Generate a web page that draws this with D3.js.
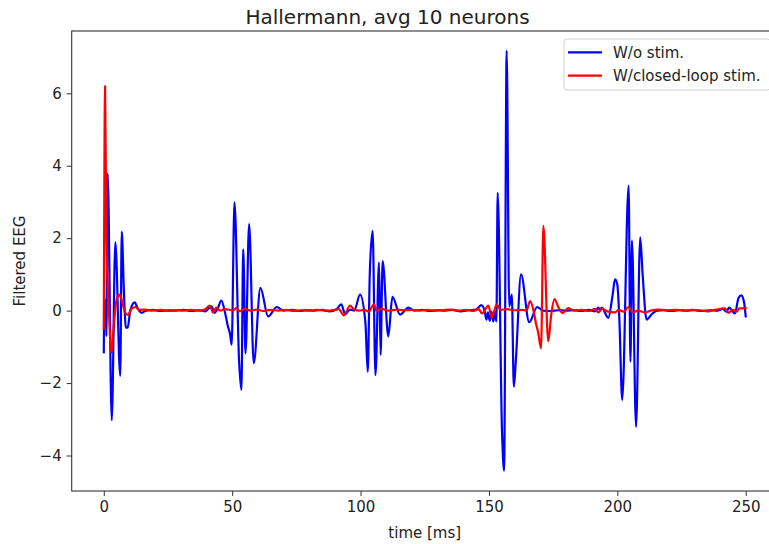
<!DOCTYPE html>
<html>
<head>
<meta charset="utf-8">
<script src="https://cdn.jsdelivr.net/npm/d3@7"></script>
<style>
  html, body { margin: 0; padding: 0; background: #fff; }
  svg { display: block; font-family: "DejaVu Sans", sans-serif; }
</style>
</head>
<body>
<svg id="chart" width="769" height="544"></svg>
<script>
// Filtered EEG, averaged over 10 neurons: without stimulation (blue)
// and with closed-loop stimulation (red). Time in ms.
const woStimTime = [0.0, 0.15, 0.45, 0.7, 1.0, 1.5, 3.1, 4.5, 6.4, 7.0, 7.8, 8.6, 9.3, 10.3, 12.0, 13.3, 14.7, 16.5, 19, 22, 25, 28, 31, 34, 37, 39.5, 41.9, 43.2, 44.3, 45.8, 47.2, 48.4, 49.1, 49.8, 50.9, 52.7, 53.6, 54.3, 55.2, 56.6, 58.4, 61.0, 64.0, 67.4, 70, 73, 76, 79, 82, 85, 88, 90.5, 92.5, 94.0, 95.9, 97.5, 99.8, 101.9, 102.8, 103.6, 104.7, 105.8, 107.2, 107.8, 108.6, 110.8, 112.4, 115.4, 118.6, 121, 124, 127, 130, 133, 136, 139, 142, 145, 147, 148.3, 149.0, 149.6, 150.3, 151.0, 151.7, 152.4, 152.9, 153.4, 155.1, 155.9, 156.9, 157.9, 158.9, 159.7, 160.5, 162.5, 165.7, 168.8, 171, 174, 177, 180, 183, 186, 189, 191.3, 192.6, 193.3, 193.9, 196.5, 198.1, 199.1, 200.0, 200.8, 201.9, 204.4, 205.1, 205.7, 207.3, 208.9, 209.9, 211.4, 213.4, 215.5, 218, 221, 224, 227, 230, 233, 236, 239, 241, 242.5, 243.5, 245.8, 247.2, 248.3, 249.3, 250];
const woStimEEG = [-1.15, 0.25, -0.3, 0.3, -0.7, 3.78, -3.03, 1.89, -1.8, 2.18, 0.6, -0.47, -0.47, 0.0, 0.23, 0.05, -0.06, 0.0, 0.02, -0.01, 0.01, 0.0, 0.02, -0.01, 0.01, -0.02, 0.12, -0.06, 0.05, 0.28, -0.05, -0.45, -0.62, -0.94, 2.99, -1.41, -2.19, 1.69, -1.18, 2.39, -1.45, 0.63, -0.16, 0.1, 0.0, 0.02, -0.01, 0.01, 0.0, 0.02, -0.02, 0.03, 0.17, -0.1, 0.03, 0.0, 0.44, -0.34, -1.69, 1.05, 2.2, -1.78, 1.33, -1.22, 1.37, -0.71, 0.38, -0.11, 0.08, 0.0, 0.02, -0.01, 0.01, 0.0, 0.02, -0.02, 0.01, 0.03, 0.15, 0.0, -0.25, -0.05, -0.28, -0.03, -0.3, -0.05, -0.3, 3.25, -3.35, -4.42, 7.18, 0.12, 0.44, -2.1, -1.35, 1.0, -0.32, 0.1, 0.0, -0.01, 0.01, 0.0, 0.01, -0.01, 0.02, -0.02, 0.08, 0.0, 0.08, -0.2, 0.4, 0.86, 0.72, -0.25, -2.47, 3.45, -1.41, 1.93, -3.21, 2.02, 0.95, -0.25, -0.1, 0.0, 0.01, -0.01, 0.01, 0.0, 0.01, -0.01, 0.01, 0.0, 0.05, -0.03, 0.08, -0.08, 0.35, 0.42, 0.25, -0.16];

const closedLoopTime = [0.0, 0.5, 1.0, 1.9, 2.9, 3.6, 4.4, 5.2, 6.2, 7.3, 8.3, 9.4, 10.8, 12.3, 13.8, 16, 19, 22, 25, 28, 31, 34, 37, 39.5, 41.3, 42.5, 43.8, 45.2, 47, 50.5, 51.5, 53, 55, 57, 59.5, 62, 65, 68, 71, 74, 77, 80, 83, 86, 89, 91.5, 93.5, 95.9, 97.5, 99.5, 101.5, 103.2, 105.2, 106.3, 108, 111, 114, 117, 120, 123, 126, 129, 132, 135, 138, 141, 144, 146, 147.3, 149.8, 151.1, 153.0, 154.5, 157, 160, 163, 164.6, 166.0, 167.3, 168.3, 169.2, 170.3, 171.2, 173.1, 174.2, 175.5, 177, 178.7, 180.9, 183, 186, 189, 191.3, 192.6, 193.9, 196, 199, 200.5, 202.5, 204.3, 206, 208, 210.8, 213, 216, 219, 223, 226, 229, 232, 235.4, 238, 241.9, 243.2, 245, 246.5, 247.5, 250];
const closedLoopEEG = [-0.5, 6.2, 2.0, 0.2, -1.17, -0.7, 0.0, 0.35, 0.44, 0.2, -0.05, -0.12, 0.05, 0.1, 0.02, 0.03, 0.0, 0.02, -0.01, 0.01, 0.0, 0.02, 0.0, 0.04, 0.14, -0.05, 0.08, 0.0, 0.04, 0.01, 0.07, -0.02, 0.05, 0.0, 0.03, -0.01, 0.02, 0.0, 0.02, -0.01, 0.01, 0.0, 0.02, 0.0, 0.01, 0.04, -0.13, 0.14, 0.03, 0.0, 0.02, -0.03, 0.17, -0.02, 0.05, 0.0, 0.03, 0.01, 0.02, 0.0, 0.02, 0.0, 0.01, 0.03, 0.0, 0.02, -0.01, 0.04, -0.08, 0.14, -0.2, 0.17, 0.02, 0.04, 0.01, 0.02, 0.0, 0.26, 0.02, -0.35, -0.62, -1.04, 2.34, -0.85, -0.15, 0.32, 0.1, -0.07, 0.07, 0.0, 0.02, -0.01, 0.05, -0.05, 0.06, -0.02, -0.05, 0.02, -0.03, 0.1, -0.05, 0.0, -0.05, 0.0, 0.03, 0.01, 0.02, 0.0, 0.02, 0.01, -0.02, 0.02, 0.06, -0.06, 0.02, -0.03, 0.06, 0.07];

const xTicks = [0, 50, 100, 150, 200, 250];
const yTicks = [-4, -2, 0, 2, 4, 6];
const seriesNames = ["W/o stim.", "W/closed-loop stim."];
const seriesColors = ["#0000ff", "#ff0000"];

const svg = d3.select("#chart");
const plot = { left: 71.7, right: 777.8, top: 31, bottom: 491 };

const x = d3.scaleLinear().domain([-12.5, 262.5]).range([plot.left, plot.right]);
const y = d3.scaleLinear().domain([-4.98, 7.72]).range([plot.bottom, plot.top]);

const fs = 15;

// clip for the traces
svg.append("defs").append("clipPath").attr("id", "plotClip")
  .append("rect")
  .attr("x", plot.left).attr("y", plot.top)
  .attr("width", plot.right - plot.left).attr("height", plot.bottom - plot.top);

// axes
const fmt = d => d3.format("")(d).replace("-", "\u2212");
const xAxis = d3.axisBottom(x).tickValues(xTicks).tickSize(5).tickPadding(5).tickFormat(fmt);
const yAxis = d3.axisLeft(y).tickValues(yTicks).tickSize(5).tickPadding(5).tickFormat(fmt);

const gx = svg.append("g").attr("transform", `translate(0,${plot.bottom})`).call(xAxis);
const gy = svg.append("g").attr("transform", `translate(${plot.left},0)`).call(yAxis);
[gx, gy].forEach(g => {
  g.select(".domain").remove();
  g.selectAll(".tick line").attr("stroke", "#333").attr("stroke-width", 1);
  g.selectAll(".tick text").attr("fill", "#222").style("font-size", fs + "px")
    .style("font-family", "'DejaVu Sans', sans-serif");
});

// traces
const line = d3.line().x(d => x(d[0])).y(d => y(d[1])).curve(d3.curveMonotoneX);
const series = [
  d3.zip(woStimTime, woStimEEG),
  d3.zip(closedLoopTime, closedLoopEEG)
];
const traces = svg.append("g").attr("clip-path", "url(#plotClip)");
series.forEach((s, i) => {
  traces.append("path")
    .datum(s)
    .attr("d", line)
    .attr("fill", "none")
    .attr("stroke", seriesColors[i])
    .attr("stroke-width", 2.2)
    .attr("stroke-linejoin", "round")
    .attr("stroke-linecap", "square");
});

// frame
svg.append("rect")
  .attr("x", plot.left).attr("y", plot.top)
  .attr("width", plot.right - plot.left).attr("height", plot.bottom - plot.top)
  .attr("fill", "none").attr("stroke", "#333").attr("stroke-width", 1.1);

// labels
svg.append("text")
  .attr("x", 387.5).attr("y", 24)
  .attr("text-anchor", "middle")
  .attr("fill", "#222")
  .style("font-size", "20px")
  .text("Hallermann, avg 10 neurons");

svg.append("text")
  .attr("x", x(125)).attr("y", 538)
  .attr("text-anchor", "middle")
  .attr("fill", "#222")
  .style("font-size", fs + "px")
  .text("time [ms]");

svg.append("text")
  .attr("transform", `translate(25,${(plot.top + plot.bottom) / 2}) rotate(-90)`)
  .attr("text-anchor", "middle")
  .attr("fill", "#222")
  .style("font-size", fs + "px")
  .text("Filtered EEG");

// legend
const lg = svg.append("g");
lg.append("rect")
  .attr("x", 564).attr("y", 39)
  .attr("width", 206).attr("height", 51)
  .attr("rx", 3)
  .attr("fill", "#fff").attr("fill-opacity", 0.8)
  .attr("stroke", "#d0d0d0").attr("stroke-width", 1);
seriesNames.forEach((name, i) => {
  const yy = 52.3 + i * 23.4;
  lg.append("line")
    .attr("x1", 568).attr("x2", 602)
    .attr("y1", yy).attr("y2", yy)
    .attr("stroke", seriesColors[i]).attr("stroke-width", 2.2);
  lg.append("text")
    .attr("x", 613).attr("y", yy + 5.3)
    .attr("fill", "#222")
    .style("font-size", fs + "px")
    .text(name);
});
</script>
</body>
</html>
